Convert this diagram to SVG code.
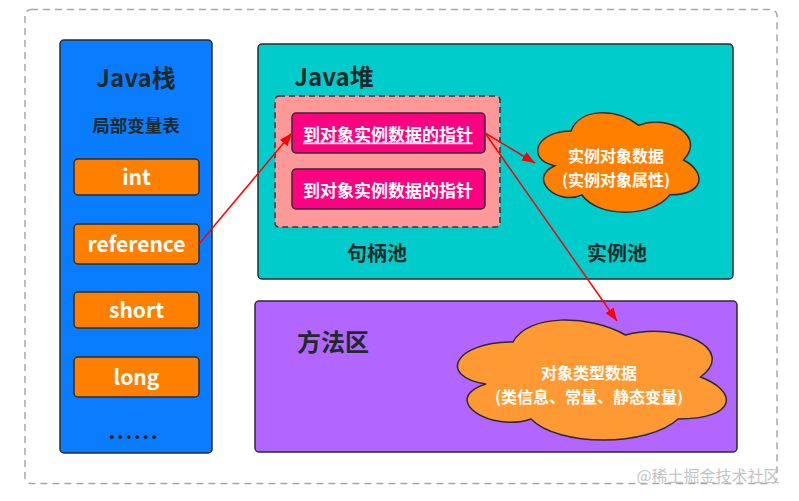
<svg xmlns="http://www.w3.org/2000/svg" width="799" height="501" viewBox="0 0 799 501">
<defs>
<style>
text{font-family:"Noto Sans CJK SC","Noto Sans",sans-serif;font-weight:bold;text-anchor:middle;dominant-baseline:central}
.box{stroke:#2b2b2b;stroke-width:1.5}
.var{fill:#FF8000;stroke:#2b2b2b;stroke-width:1.5}
.vt{fill:#fff;font-size:21px}
.ptr{fill:#FF0080;stroke:#3a2a3a;stroke-width:1.5}
.pt{fill:#fff;font-size:17px}
.dark{fill:#1e2a2a}
.ct{fill:#fff;font-size:16px}
.conn{stroke:#FF0000;stroke-width:1.5;fill:none;marker-end:url(#ah)}
.cloud{stroke:#2b2b2b;stroke-width:1.5}
</style>
<marker id="ah" markerUnits="userSpaceOnUse" markerWidth="14" markerHeight="10" refX="13" refY="5" orient="auto">
<path d="M0,0 L13,5 L0,10 Z" fill="#FF0000"/>
</marker>
</defs>
<rect x="0" y="0" width="799" height="501" fill="#fff"/>
<rect id="frame" x="25" y="9.5" width="752" height="474" rx="6" fill="none" stroke="#a8a8a8" stroke-width="1.5" stroke-dasharray="7 5"/>

<g id="java-stack">
<rect class="box" x="60" y="40" width="152" height="413" rx="4" fill="#0A7CFF"/>
<text class="dark" x="136" y="76" style="font-size:24px">Java栈</text>
<text class="dark" x="136" y="124" style="font-size:17.5px">局部变量表</text>
</g>
<g id="var-int"><rect class="var" x="74" y="159" width="125" height="36" rx="4"/><text class="vt" x="136.5" y="176">int</text></g>
<g id="var-reference"><rect class="var" x="74" y="224" width="125" height="40" rx="4"/><text class="vt" x="136.5" y="243">reference</text></g>
<g id="var-short"><rect class="var" x="74" y="292" width="125" height="36" rx="4"/><text class="vt" x="136.5" y="309">short</text></g>
<g id="var-long"><rect class="var" x="74" y="357" width="125" height="40" rx="4"/><text class="vt" x="136.5" y="376">long</text></g>
<g id="var-more"><text x="134" y="430" style="font-size:20px;letter-spacing:2px" fill="#111">......</text></g>

<g id="java-heap">
<rect class="box" x="258" y="44" width="475" height="235" rx="4" fill="#00CCCC"/>
<text class="dark" x="334" y="75" style="font-size:24px">Java堆</text>
<text class="dark" x="377" y="252" style="font-size:20px">句柄池</text>
<text class="dark" x="617" y="252" style="font-size:20px">实例池</text>
</g>
<g id="handle-pool">
<rect x="275" y="96" width="225" height="131" rx="4" fill="#FF9999" stroke="#333" stroke-width="1.5" stroke-dasharray="6 4"/>
</g>
<g id="pointer-1"><rect class="ptr" x="292" y="113" width="193" height="40" rx="4"/><text class="pt" x="388" y="133" text-decoration="underline">到对象实例数据的指针</text></g>
<g id="pointer-2"><rect class="ptr" x="292" y="169" width="193" height="40" rx="4"/><text class="pt" x="388" y="189">到对象实例数据的指针</text></g>

<g id="instance-data">
<path class="cloud" fill="#FF8000" d="M571,131 C535,131 526,160 554.8,165.8 C526,178.6 558.4,206.4 581.8,194.8 C598,218 652,218 670,194.8 C706,194.8 706,171.6 683.5,160 C706,136.8 670,113.6 638.5,125.2 C616,107.8 580,107.8 571,131 Z"/>
<text class="ct" x="616" y="155">实例对象数据</text>
<text class="ct" x="616" y="178.5">(实例对象属性)</text>
</g>

<g id="method-area">
<rect class="box" x="255" y="301" width="482" height="151" rx="4" fill="#B266FF"/>
<text class="dark" x="333" y="340" style="font-size:24px" fill="#1a1a1a">方法区</text>
</g>
<g id="type-data">
<path class="cloud" fill="#FF9933" d="M513,342 C453,342 438,377 486,384 C438,399.4 492,433 531,419 C558,447 648,447 678,419 C738,419 738,391 700.5,377 C738,349 678,321 625.5,335 C588,314 528,314 513,342 Z"/>
<text class="ct" x="589" y="372">对象类型数据</text>
<text class="ct" x="589" y="395.5">(类信息、常量、静态变量)</text>
</g>

<g id="connectors">
<line class="conn" x1="199" y1="244" x2="292" y2="133"/>
<line class="conn" x1="485" y1="133" x2="535" y2="163"/>
<line class="conn" x1="485" y1="133" x2="617" y2="321"/>
</g>

<text x="708" y="475" style="font-size:16px;font-weight:normal" fill="#c4c4c4">@稀土掘金技术社区</text>
</svg>
